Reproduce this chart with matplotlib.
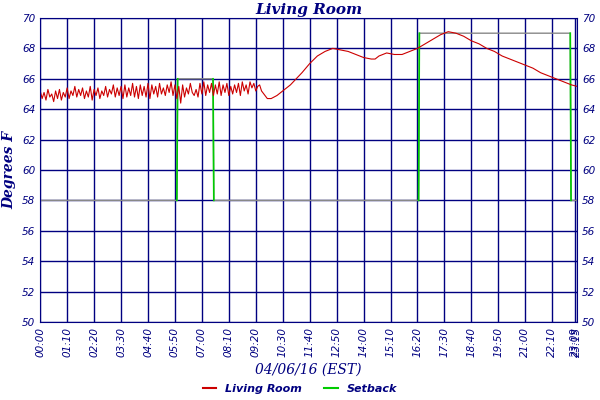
import matplotlib
matplotlib.use("Agg")
import matplotlib.pyplot as plt

NAVY = "#000080"

# minutes since midnight, living room temperature (F)
noisy_t = list(range(0, 580, 5))
noisy_v = [65.2, 64.7, 65.1, 64.6, 65.3, 64.8, 65.0, 64.5, 65.2, 64.7,
           65.3, 64.6, 65.1, 64.8, 65.4, 64.7, 65.2, 64.9, 65.5, 64.8,
           65.3, 64.9, 65.4, 64.7, 65.2, 64.8, 65.5, 64.6, 65.3, 64.9,
           65.4, 64.7, 65.2, 64.9, 65.5, 64.8, 65.3, 65.0, 65.6, 64.8,
           65.4, 64.9, 65.5, 64.7, 65.6, 64.8, 65.4, 64.9, 65.7, 64.8,
           65.5, 64.7, 65.6, 64.9, 65.5, 64.8, 65.7, 64.7, 65.6, 65.0,
           65.5, 64.8, 65.7, 65.0, 65.4, 64.9, 65.6, 65.1, 65.8, 64.9,
           65.6, 64.7, 65.5, 64.4, 65.6, 64.8, 65.4, 65.0, 65.7, 65.1,
           64.9, 65.3, 64.8, 65.7, 65.0, 65.8, 64.9, 65.6, 65.1, 65.7,
           64.9, 65.6, 65.0, 65.8, 64.9, 65.6, 65.1, 65.7, 64.9, 65.5,
           65.0, 65.6, 65.1, 65.7, 64.9, 65.8, 65.2, 65.6, 65.0, 65.8,
           65.4, 65.7, 65.2, 65.5, 65.6, 65.2]
smooth_t = [590, 600, 615, 630, 650, 680, 700, 720, 740, 760, 780, 800,
            820, 840, 860, 870, 880, 900, 920, 940, 960, 980, 1000, 1020,
            1040, 1060, 1080, 1100, 1120, 1140, 1160, 1180, 1200, 1230,
            1260, 1280, 1300, 1320, 1340, 1360, 1380, 1395]
smooth_v = [64.7, 64.7, 64.9, 65.2, 65.6, 66.4, 67.0, 67.5, 67.8, 68.0,
            67.9, 67.8, 67.6, 67.4, 67.3, 67.3, 67.5, 67.7, 67.6, 67.6,
            67.8, 68.0, 68.3, 68.6, 68.9, 69.1, 69.0, 68.8, 68.5, 68.3,
            68.0, 67.8, 67.5, 67.2, 66.9, 66.7, 66.4, 66.2, 66.0, 65.8,
            65.6, 65.5]
room_t = noisy_t + smooth_t
room_v = noisy_v + smooth_v

setback_t = [0, 355, 357, 449, 451, 983, 985, 1377, 1379, 1395]
setback_v = [58, 58, 66, 66, 58, 58, 69, 69, 58, 58]

tick_min = [i * 70 for i in range(20)] + [1389, 1395]
tick_lab = ["%02d:%02d" % (m // 60, m % 60) for m in tick_min]

fig = plt.figure(figsize=(6, 4), dpi=100)
ax = fig.add_axes([0.067, 0.195, 0.895, 0.76])
ax.set_xlim(0, 1395)
ax.set_ylim(50, 70)
ax.set_xticks(tick_min)
ax.set_xticklabels(tick_lab, rotation=90, fontsize=7, color=NAVY, style="italic")
for l in ax.get_xticklabels()[-2:]:
    l.set_fontsize(6)
ax.set_yticks(range(50, 71, 2))
ax.tick_params(length=0, labelright=True, colors=NAVY, labelsize=7.5)
for l in ax.get_yticklabels():
    l.set_style("italic")
ax.grid(True, color=NAVY, lw=1)
for s in ax.spines.values():
    s.set_color(NAVY)

ax.plot(setback_t, setback_v, color="#888888", lw=1)
for i in range(1, len(setback_t)):
    if setback_v[i] != setback_v[i - 1]:
        ax.plot(setback_t[i - 1:i + 1], setback_v[i - 1:i + 1], color="#00cc00", lw=1.2)
ax.plot(room_t, room_v, color="#cc0000", lw=0.8)

ax.set_title("Living Room", fontsize=11, color=NAVY, style="italic",
             weight="bold", family="DejaVu Serif", pad=3)
ax.set_ylabel("Degrees F", fontsize=10, color=NAVY, style="italic",
              weight="bold", family="DejaVu Serif", labelpad=4)
ax.set_xlabel("04/06/16 (EST)", fontsize=10, color=NAVY, style="italic",
              family="DejaVu Serif", labelpad=4)
h1, = ax.plot([], [], color="#cc0000", label="Living Room")
h2, = ax.plot([], [], color="#00cc00", label="Setback")
leg = fig.legend(handles=[h1, h2], loc="lower center", ncol=2, frameon=False,
                 fontsize=8, handlelength=1.2, bbox_to_anchor=(0.5, -0.01))
for t in leg.get_texts():
    t.set_color(NAVY)
    t.set_style("italic")
    t.set_weight("bold")

fig.savefig("out.png", dpi=100)
